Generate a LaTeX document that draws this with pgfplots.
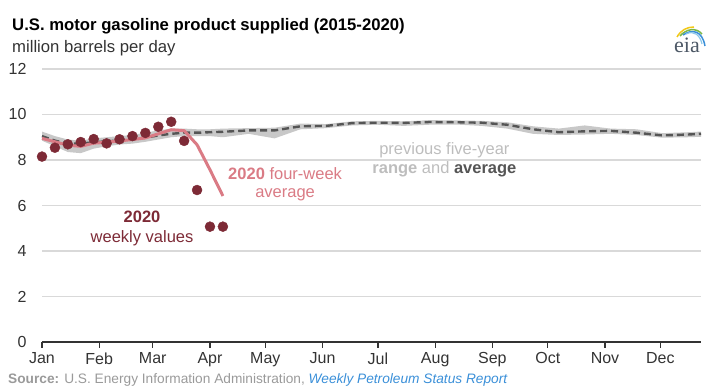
\documentclass[border=0pt]{standalone}
\usepackage{pgfplots}
\pgfplotsset{compat=1.18}
\usepackage{pgfplotstable}
\usepgfplotslibrary{fillbetween}
\usepackage{fontspec}
\setmainfont{Liberation Sans}
\newfontfamily\seriffont{Liberation Serif}
\definecolor{bandc}{HTML}{C8C8C8}
\definecolor{avgc}{HTML}{555555}
\definecolor{pinkl}{HTML}{DA7B85}
\definecolor{maroonc}{HTML}{7D2A36}
\definecolor{lgray}{HTML}{BDBDBD}
\definecolor{srcc}{HTML}{9A9A9A}
\definecolor{linkc}{HTML}{3A8FD8}
\definecolor{gridc}{HTML}{D9D9D9}
\definecolor{tickc}{HTML}{333333}
\definecolor{eiatext}{HTML}{4D5866}
\definecolor{eiayel}{HTML}{F2C818}
\definecolor{eiagrn}{HTML}{7AB648}
\definecolor{eialb}{HTML}{8CC8EA}

\pgfplotstableread{
day lo hi avg
0 8.85 9.25 9.05
7 8.60 9.05 8.85
14 8.35 8.90 8.72
21 8.30 8.85 8.72
28 8.50 8.95 8.78
35 8.60 9.00 8.82
42 8.68 9.05 8.86
49 8.72 9.10 8.90
56 8.80 9.20 8.98
63 8.90 9.30 9.08
70 9.00 9.38 9.15
77 9.05 9.38 9.20
84 9.05 9.35 9.20
91 9.05 9.35 9.22
98 9.00 9.38 9.24
112 9.15 9.40 9.30
126 8.95 9.42 9.30
140 9.35 9.60 9.48
154 9.40 9.58 9.50
168 9.52 9.70 9.62
182 9.55 9.72 9.64
196 9.50 9.70 9.63
210 9.55 9.75 9.67
224 9.56 9.74 9.66
238 9.50 9.72 9.64
252 9.38 9.66 9.55
266 9.15 9.48 9.35
280 9.10 9.38 9.22
294 9.12 9.52 9.26
308 9.15 9.38 9.28
322 9.10 9.35 9.20
336 8.98 9.18 9.08
350 9.00 9.22 9.12
357 9.02 9.25 9.15
}\fiveyr

\pgfplotstableread{
day val
0 8.15
7 8.54
14 8.69
21 8.79
28 8.92
35 8.73
42 8.91
49 9.05
56 9.19
63 9.46
70 9.68
77 8.84
84 6.68
91 5.07
98 5.07
}\weekly

\pgfplotstableread{
day val
0 8.95
7 8.80
14 8.65
21 8.60
28 8.74
35 8.78
42 8.84
49 8.90
56 8.97
63 9.15
70 9.33
77 9.29
84 8.67
91 7.57
98 6.42
}\fourwk

\begin{document}
\begin{tikzpicture}
\path (0pt,0pt) rectangle (726pt,387pt);
% titles
\node[anchor=base west,inner sep=0pt,font=\fontsize{16.7}{18}\selectfont\bfseries] at (12pt,356.5pt) {U.S. motor gasoline product supplied (2015-2020)};
\node[anchor=base west,inner sep=0pt,font=\fontsize{16.7}{18}\selectfont,text=tickc] at (12pt,334pt) {million barrels per day};
% source
\node[anchor=base west,inner sep=0pt,font=\fontsize{13.7}{15}\selectfont,text=srcc] at (8pt,3.5pt) {\textbf{Source:} U.S. Energy Information Administration, \textcolor{linkc}{\itshape Weekly Petroleum Status Report}};
% eia logo
\node[anchor=base,inner sep=0pt,font=\fontsize{22}{22}\seriffont,text=eiatext] at (687pt,334pt) {eia};
\draw[color=eiayel,line width=1.5pt] (677pt,350pt) .. controls (681pt,357pt) and (687pt,360pt) .. (694pt,360pt);
\draw[color=eiagrn,line width=1.5pt] (680pt,351pt) .. controls (686pt,358pt) and (696pt,360pt) .. (702pt,353pt);
\draw[color=linkc,line width=1.5pt] (683pt,352pt) .. controls (692pt,358pt) and (702pt,357pt) .. (705pt,341pt);
\draw[color=eialb,line width=1.2pt] (686pt,353pt) .. controls (694pt,357pt) and (700pt,352pt) .. (702pt,343pt);

\begin{axis}[
  at={(42pt,45pt)}, anchor=south west,
  scale only axis, width=659pt, height=273pt,
  xmin=0, xmax=357, ymin=0, ymax=12,
  axis x line*=bottom, axis y line*=left,
  y axis line style={draw=none},
  x axis line style={draw=tickc,line width=1.3pt},
  xtick={0,31,60,91,121,152,182,213,244,274,305,335},
  xticklabels={Jan,Feb,Mar,Apr,May,Jun,Jul,Aug,Sep,Oct,Nov,Dec},
  ytick={0,2,4,6,8,10,12},
  ymajorgrids, grid style={draw=gridc,line width=1.2pt},
  major tick length=6pt,
  tick align=outside,
  xtick style={draw=tickc,line width=1.2pt},
  ytick style={draw=none},
  /pgf/number format/assume math mode=true,
  ticklabel style={font=\fontsize{16}{16}\selectfont,text=tickc},
  yticklabel style={anchor=east,xshift=-6pt},
  xticklabel style={yshift=-1pt},
  clip=false,
]
\addplot[name path=upper,draw=none,forget plot] table[x=day,y=hi] {\fiveyr};
\addplot[name path=lower,draw=none,forget plot] table[x=day,y=lo] {\fiveyr};
\addplot[bandc,forget plot] fill between[of=upper and lower];
\addplot[avgc,line width=2.4pt,dash pattern=on 7pt off 4pt] table[x=day,y=avg] {\fiveyr};
\addplot[pinkl,line width=3pt,line join=round] table[x=day,y=val] {\fourwk};
\addplot[only marks,mark=*,mark size=5pt,maroonc,mark options={draw=maroonc,fill=maroonc}] table[x=day,y=val] {\weekly};

\node[align=center,inner sep=0pt,font=\fontsize{16.5}{19.5}\selectfont,text=lgray] at (axis cs:218,8.0) {previous five-year\\\textbf{range} and \textbf{\textcolor{avgc}{average}}};
\node[align=center,inner sep=0pt,font=\fontsize{16.5}{18}\selectfont,text=pinkl] at (axis cs:131.7,6.95) {\textbf{2020} four-week\\average};
\node[align=center,inner sep=0pt,font=\fontsize{16.5}{20}\selectfont,text=maroonc] at (axis cs:54.2,5.0) {\textbf{2020}\\weekly values};
\end{axis}
\end{tikzpicture}
\end{document}
